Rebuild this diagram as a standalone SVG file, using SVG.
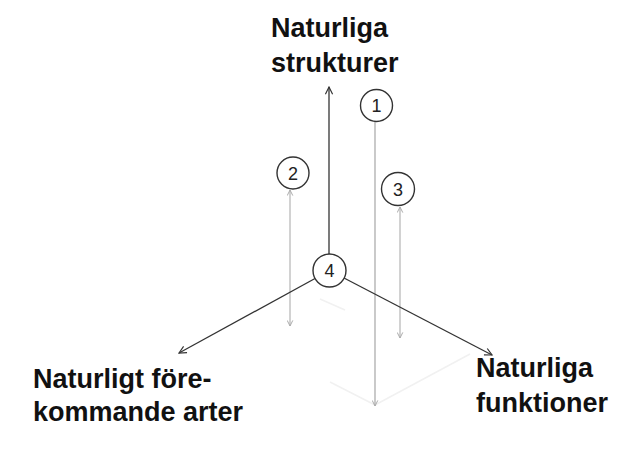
<svg xmlns="http://www.w3.org/2000/svg" width="617" height="457" viewBox="0 0 617 457">
  <style>
    .axis { stroke: #333; stroke-width: 1.3; fill: none; }
    .guide { stroke: #b4b4b4; stroke-width: 1.2; fill: none; }
    .guide-main { stroke: #c4c4c4; stroke-width: 1.8; fill: none; }
    .floor { stroke: #f1f1f1; stroke-width: 1.5; fill: none; }
    .node circle { fill: #fff; stroke: #333; stroke-width: 1.4; }
    .node text { font-family: "Liberation Sans", Arial, sans-serif; font-size: 18px; fill: #222; text-anchor: middle; }
    .label { font-family: "Liberation Sans", Arial, sans-serif; font-weight: bold; font-size: 27px; fill: #111; }
  </style>
  <defs>
    <marker id="arrowDark" viewBox="0 0 10 10" refX="9" refY="5" markerWidth="9" markerHeight="9" markerUnits="userSpaceOnUse" orient="auto">
      <path d="M1,1 L9,5 L1,9" fill="none" stroke="#333" stroke-width="1.3"/>
    </marker>
    <marker id="arrowGray" viewBox="0 0 10 10" refX="9" refY="5" markerWidth="7" markerHeight="7" markerUnits="userSpaceOnUse" orient="auto-start-reverse">
      <path d="M1,1 L9,5 L1,9" fill="none" stroke="#aaa" stroke-width="1.4"/>
    </marker>
  </defs>

  <rect width="617" height="457" fill="#fff"/>

  <!-- faint floor projection lines -->
  <g id="floor">
    <line class="floor" x1="330" y1="382" x2="375" y2="405"/>
    <line class="floor" x1="375" y1="405" x2="470" y2="354"/>
    <line class="floor" x1="320" y1="299" x2="345" y2="310"/>
  </g>

  <g id="connectors">
    <!-- vertical guides for points 1-3 -->
    <line class="guide-main" x1="375" y1="122" x2="375" y2="406" marker-end="url(#arrowGray)"/>
    <line class="guide" x1="290" y1="190" x2="290" y2="326" marker-start="url(#arrowGray)" marker-end="url(#arrowGray)"/>
    <line class="guide" x1="400" y1="207" x2="400" y2="338" marker-start="url(#arrowGray)" marker-end="url(#arrowGray)"/>
    <!-- three axes from point 4 -->
    <line class="axis" x1="329" y1="254" x2="329" y2="87" marker-end="url(#arrowDark)"/>
    <line class="axis" x1="315" y1="278.5" x2="179" y2="353" marker-end="url(#arrowDark)"/>
    <line class="axis" x1="344" y1="278" x2="492" y2="355" marker-end="url(#arrowDark)"/>
  </g>

  <g id="node1" class="node">
    <circle cx="376.5" cy="105.5" r="16"/>
    <text x="376.5" y="112">1</text>
  </g>
  <g id="node2" class="node">
    <circle cx="293" cy="173" r="16"/>
    <text x="293" y="179.5">2</text>
  </g>
  <g id="node3" class="node">
    <circle cx="398" cy="189" r="16.5"/>
    <text x="398" y="195.5">3</text>
  </g>
  <g id="node4" class="node">
    <circle cx="329.5" cy="270.5" r="16.5"/>
    <text x="329.5" y="277">4</text>
  </g>

  <g id="label-strukturer">
    <text class="label" x="271" y="37">Naturliga</text>
    <text class="label" x="271" y="72">strukturer</text>
  </g>
  <g id="label-arter">
    <text class="label" x="33" y="388">Naturligt före-</text>
    <text class="label" x="33" y="421">kommande arter</text>
  </g>
  <g id="label-funktioner">
    <text class="label" x="476" y="377">Naturliga</text>
    <text class="label" x="476" y="412">funktioner</text>
  </g>
</svg>
